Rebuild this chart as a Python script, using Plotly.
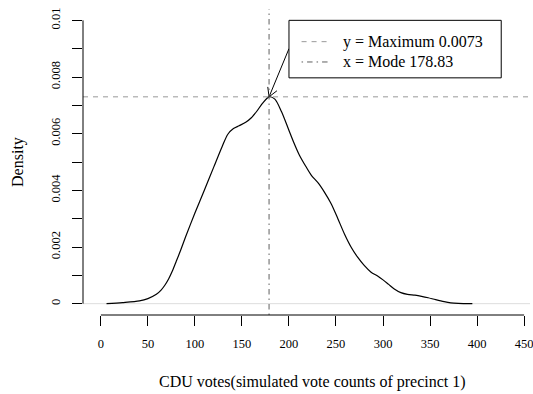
import math
import plotly.graph_objects as go

# ---------------- data ----------------
dens_x = [6, 23, 41, 50, 59, 64, 68, 72, 76, 80, 85, 90, 100, 110, 120, 129, 135, 141,
          147, 154, 160, 166, 172, 178.83, 185, 192, 199, 205, 211, 218, 224, 231, 238,
          245, 252, 259, 266, 273, 280, 287, 295, 300, 306, 312, 319, 326, 334, 341, 348,
          356, 365, 372, 380, 395]
dens_y = [0.0, 0.00004, 0.00010, 0.00018, 0.00033, 0.00048, 0.00065, 0.00087, 0.00115,
          0.00148, 0.00190, 0.00235, 0.00320, 0.00400, 0.00482, 0.00555, 0.00598, 0.00618,
          0.00628, 0.00640, 0.00656, 0.00680, 0.00708, 0.00730, 0.00722, 0.00678, 0.00620,
          0.00570, 0.00525, 0.00484, 0.00452, 0.00426, 0.00392, 0.00352, 0.00300, 0.00246,
          0.00200, 0.00164, 0.00135, 0.00112, 0.00096, 0.00084, 0.00068, 0.00052, 0.00039,
          0.00033, 0.00030, 0.00026, 0.00021, 0.00014, 0.00007, 0.00003, 0.00001, 0.0]
mode_x = 178.83
max_y = 0.0073

x_ticks = [0, 50, 100, 150, 200, 250, 300, 350, 400, 450]
y_ticks = [0, 0.001, 0.002, 0.003, 0.004, 0.005, 0.006, 0.007, 0.008, 0.009, 0.01]
y_tick_labels = ["0", "", "0.002", "", "0.004", "", "0.006", "", "0.008", "", "0.01"]
legend_labels = ["y = Maximum 0.0073", "x = Mode 178.83"]
x_title = "CDU votes(simulated vote counts of precinct 1)"
y_title = "Density"

# ---------------- layout constants ----------------
W, H = 533, 394
ML, MR, MT, MB = 83, 0, 9, 79
x_range = [-19.01, 456.3]
y_range = [-0.0004, 0.0104]
FONT = "Liberation Serif"
H_COL = "#999999"
V_COL = "#5f5f5f"
H_DASH = "5px,5px"
V_DASH = "1.5px,4px,5.5px,4px"

plot_w = W - ML - MR
plot_h = H - MT - MB
kx = plot_w / (x_range[1] - x_range[0])
ky = plot_h / (y_range[1] - y_range[0])

# legend box (R legend at x=200, y=0.01)
leg_x0, leg_x1 = 200, 425.7
leg_y0, leg_y1 = 0.00797, 0.01
leg_rows_y = [0.009247, 0.00853]
leg_line_x = [213.4, 241.9]
leg_text_x = 255.6

# arrow from legend to the peak
arr_start = (200, 0.009)
arr_tip = (mode_x, max_y)

fig = go.Figure()

# density curve
fig.add_trace(go.Scatter(x=dens_x, y=dens_y, mode="lines",
                         line=dict(color="black", width=1.2, shape="spline", smoothing=0.8),
                         showlegend=False, hoverinfo="skip"))

# arrow (shaft + open head computed in pixel space)
sx = (arr_tip[0] - arr_start[0]) * kx
sy = -(arr_tip[1] - arr_start[1]) * ky
ang = math.atan2(sy, sx)
L = 10
head = []
for s in (+1, -1):
    a = ang + math.pi + s * math.radians(30)
    hx = arr_tip[0] + L * math.cos(a) / kx
    hy = arr_tip[1] - L * math.sin(a) / ky
    head.append((hx, hy))
ax_pts = [arr_start[0], arr_tip[0], None, head[0][0], arr_tip[0], head[1][0]]
ay_pts = [arr_start[1], arr_tip[1], None, head[0][1], arr_tip[1], head[1][1]]
fig.add_trace(go.Scatter(x=ax_pts, y=ay_pts, mode="lines",
                         line=dict(color="black", width=1), showlegend=False, hoverinfo="skip"))

shapes = [
    dict(type="line", xref="paper", yref="y", x0=0, x1=1, y0=0, y1=0,
         line=dict(color="#dddddd", width=1), layer="below"),
    dict(type="line", xref="paper", yref="y", x0=0, x1=1, y0=max_y, y1=max_y,
         line=dict(color=H_COL, width=1, dash=H_DASH)),
    dict(type="line", xref="x", yref="paper", x0=mode_x, x1=mode_x, y0=0, y1=1,
         line=dict(color=V_COL, width=1, dash=V_DASH)),
    dict(type="line", xref="x", yref="paper", x0=x_ticks[0], x1=x_ticks[-1], y0=0, y1=0,
         line=dict(color="black", width=1)),
    dict(type="line", xref="paper", yref="y", x0=0, x1=0, y0=y_ticks[0], y1=y_ticks[-1],
         line=dict(color="black", width=1)),
    dict(type="rect", xref="x", yref="y", x0=leg_x0, x1=leg_x1, y0=leg_y0, y1=leg_y1,
         line=dict(color="black", width=1), fillcolor="white"),
    dict(type="line", xref="x", yref="y", x0=leg_line_x[0], x1=leg_line_x[1],
         y0=leg_rows_y[0], y1=leg_rows_y[0], line=dict(color=H_COL, width=1, dash=H_DASH)),
    dict(type="line", xref="x", yref="y", x0=leg_line_x[0], x1=leg_line_x[1],
         y0=leg_rows_y[1], y1=leg_rows_y[1], line=dict(color=V_COL, width=1, dash=V_DASH)),
]

annotations = [
    dict(text=lab, xref="x", yref="y", x=leg_text_x, y=yy, xanchor="left", yanchor="middle",
         showarrow=False, font=dict(family=FONT, size=16, color="black"))
    for lab, yy in zip(legend_labels, leg_rows_y)
]
annotations.append(dict(text=x_title, xref="x", yref="paper", x=225,
                        y=-(382 - (H - MB)) / plot_h, xanchor="center", yanchor="middle",
                        showarrow=False, font=dict(family=FONT, size=16, color="black")))
annotations.append(dict(text=y_title, xref="paper", yref="paper",
                        x=(17.5 - ML) / plot_w, y=0.5, textangle=-90,
                        xanchor="center", yanchor="middle", showarrow=False,
                        font=dict(family=FONT, size=16, color="black")))

tick_font = dict(family=FONT, size=12.5, color="black")
fig.update_layout(
    width=W, height=H,
    margin=dict(l=ML, r=MR, t=MT, b=MB, pad=0),
    plot_bgcolor="white", paper_bgcolor="white",
    shapes=shapes, annotations=annotations, showlegend=False,
    font=dict(family=FONT, size=12.5, color="black"),
    xaxis=dict(range=x_range, tickvals=x_ticks, ticktext=[str(v) for v in x_ticks],
               ticks="outside", ticklen=10, tickwidth=1, tickcolor="black",
               showgrid=False, zeroline=False, showline=False,
               tickfont=tick_font, ticklabelstandoff=7, ticklabeloverflow="allow"),
    yaxis=dict(range=y_range, tickvals=y_ticks, ticktext=y_tick_labels,
               ticks="outside", ticklen=10, tickwidth=1, tickcolor="black",
               showgrid=False, zeroline=False, showline=False, tickangle=-90,
               tickfont=tick_font, ticklabelstandoff=7, ticklabeloverflow="allow"),
)

fig.write_html("out.html")
